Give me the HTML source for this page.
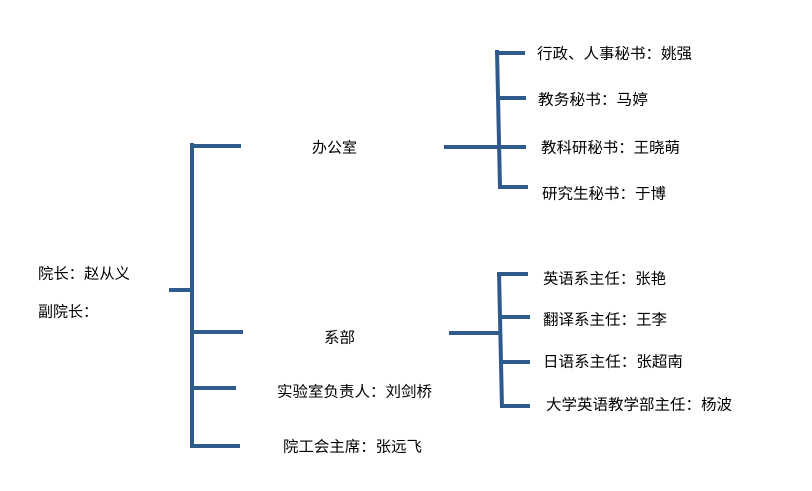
<!DOCTYPE html>
<html>
<head>
<meta charset="utf-8">
<style>
html,body{margin:0;padding:0;background:#fff;}
svg{display:block;}
text{font-family:"Liberation Sans","Noto Sans CJK SC",sans-serif;font-size:15px;fill:#000;}
</style>
</head>
<body>
<svg width="812" height="491" viewBox="0 0 812 491" xmlns="http://www.w3.org/2000/svg">
<g stroke="#2f5a8c" stroke-width="4" fill="none" stroke-linecap="butt">
  <!-- main bracket -->
  <line x1="169" y1="290" x2="192" y2="290"/>
  <line x1="192" y1="143" x2="192" y2="448"/>
  <line x1="190" y1="146" x2="241" y2="146"/>
  <line x1="192" y1="332" x2="243" y2="332"/>
  <line x1="192" y1="388" x2="236" y2="388"/>
  <line x1="190" y1="446" x2="240" y2="446"/>
  <!-- office bracket -->
  <line x1="444" y1="147" x2="498" y2="147"/>
  <line x1="497" y1="50" x2="500" y2="188"/>
  <line x1="495" y1="53" x2="525" y2="53"/>
  <line x1="497" y1="98" x2="526" y2="98"/>
  <line x1="498" y1="147" x2="526" y2="147"/>
  <line x1="498" y1="187" x2="528" y2="187"/>
  <!-- dept bracket -->
  <line x1="449" y1="333" x2="500" y2="333"/>
  <line x1="499" y1="272" x2="502" y2="408"/>
  <line x1="497" y1="274" x2="528" y2="274"/>
  <line x1="500" y1="317" x2="530" y2="317"/>
  <line x1="501" y1="362" x2="530" y2="362"/>
  <line x1="501" y1="406" x2="530" y2="406"/>
</g>
<text x="38" y="278.5" textLength="92" lengthAdjust="spacingAndGlyphs">院长：赵从义</text>
<text x="38" y="316.5">副院长：</text>
<text x="312" y="152.5" textLength="45" lengthAdjust="spacingAndGlyphs">办公室</text>
<text x="324" y="342.5" textLength="31" lengthAdjust="spacingAndGlyphs">系部</text>
<text x="277" y="396.5" textLength="155" lengthAdjust="spacingAndGlyphs">实验室负责人：刘剑桥</text>
<text x="283" y="451.5" textLength="139" lengthAdjust="spacingAndGlyphs">院工会主席：张远飞</text>
<text x="537" y="58.5" textLength="155" lengthAdjust="spacingAndGlyphs">行政、人事秘书：姚强</text>
<text x="538" y="104.5" textLength="110" lengthAdjust="spacingAndGlyphs">教务秘书：马婷</text>
<text x="541" y="152.5" textLength="139" lengthAdjust="spacingAndGlyphs">教科研秘书：王晓萌</text>
<text x="542" y="198.5" textLength="124" lengthAdjust="spacingAndGlyphs">研究生秘书：于博</text>
<text x="543" y="283.5" textLength="123" lengthAdjust="spacingAndGlyphs">英语系主任：张艳</text>
<text x="543" y="324.5" textLength="124" lengthAdjust="spacingAndGlyphs">翻译系主任：王李</text>
<text x="543" y="366.5" textLength="140" lengthAdjust="spacingAndGlyphs">日语系主任：张超南</text>
<text x="546" y="409.5" textLength="186" lengthAdjust="spacingAndGlyphs">大学英语教学部主任：杨波</text>
</svg>
</body>
</html>
